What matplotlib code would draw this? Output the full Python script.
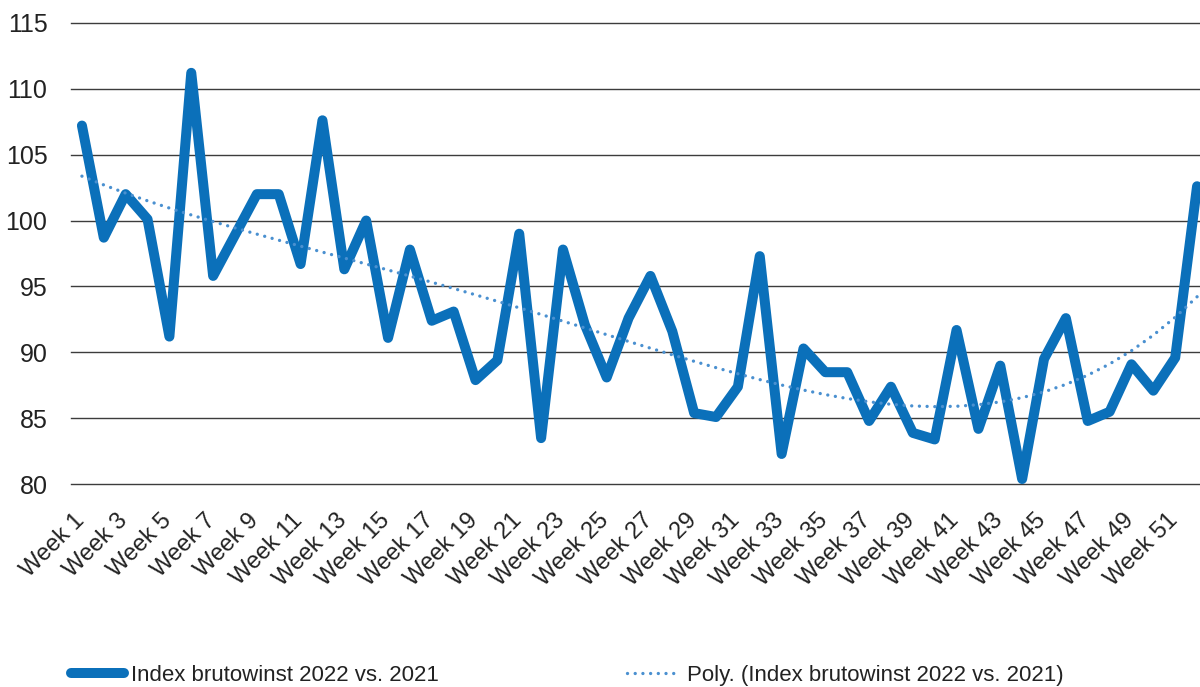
import numpy as np
import matplotlib.pyplot as plt
from matplotlib.transforms import ScaledTranslation

plt.rcParams["font.family"] = ["Liberation Sans", "DejaVu Sans"]

weeks = [f"Week {i}" for i in range(1, 53)]
index_values = [
    107.2, 98.7, 102.0, 100.1, 91.2, 111.2, 95.8, 98.9, 102.0, 102.0,
    96.7, 107.6, 96.3, 100.0, 91.1, 97.8, 92.4, 93.1, 87.9, 89.4,
    99.0, 83.5, 97.8, 92.1, 88.1, 92.6, 95.8, 91.6, 85.4, 85.1,
    87.4, 97.3, 82.3, 90.3, 88.5, 88.5, 84.8, 87.4, 83.9, 83.4,
    91.7, 84.2, 89.0, 80.4, 89.5, 92.6, 84.8, 85.5, 89.1, 87.1,
    89.6, 102.6,
]
y_ticks = [80, 85, 90, 95, 100, 105, 110, 115]

MAIN = "#0B70BA"
TREND = "#4A90D0"
GRID = "#3c3c3c"
TEXT = "#222222"
FS = 17

x = np.arange(1, len(index_values) + 1)
# excel-style polynomial trendline
coef = np.polyfit(x, index_values, 4)
trend = np.polyval(coef, x)

fig = plt.figure(figsize=(12, 6.87), dpi=100)
ax = fig.add_axes([71 / 1200, 1 - 484.3 / 687, (1208 - 71) / 1200, (484.3 - 22.7) / 687])

ax.plot(x, index_values, color=MAIN, lw=7.2, solid_joinstyle="round",
        solid_capstyle="round", label="Index brutowinst 2022 vs. 2021", zorder=3)
ax.plot(x, trend, color=TREND, lw=2.4, linestyle=(0, (0.01, 2.3)),
        dash_capstyle="round", label="Poly. (Index brutowinst 2022 vs. 2021)", zorder=4)

ax.set_xlim(0.5, 52.5)
ax.set_ylim(80, 115)
ax.set_yticks(y_ticks)
ax.set_yticklabels([str(v) for v in y_ticks], fontsize=18, color=TEXT)
ax.set_xticks(x[::2])
ax.set_xticklabels(weeks[::2], fontsize=FS, color=TEXT, rotation=45,
                   ha="right", rotation_mode="anchor")
ax.tick_params(axis="both", length=0)
ax.tick_params(axis="y", pad=17)
ax.tick_params(axis="x", pad=8)
shift = ScaledTranslation(-0.09, -0.14, fig.dpi_scale_trans)
for lab in ax.get_xticklabels():
    lab.set_transform(lab.get_transform() + shift)
for s in ax.spines.values():
    s.set_visible(False)
ax.yaxis.grid(True, color=GRID, lw=1.0)
for gl in ax.get_ygridlines():
    gl.set_clip_on(False)
ax.set_axisbelow(True)

fig.legend(loc="lower left", bbox_to_anchor=(60 / 1200, -0.014), ncol=2,
           frameon=False, fontsize=16, handlelength=2.4, handletextpad=0.3,
           columnspacing=8.45, borderpad=0, labelcolor=TEXT)

fig.savefig("out.png", dpi=100)
